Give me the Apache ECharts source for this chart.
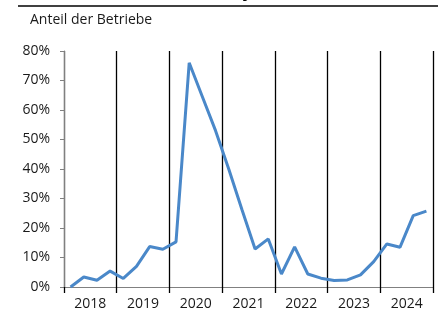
<!DOCTYPE html>
<html>
<head>
<meta charset="utf-8">
<script src="https://cdn.jsdelivr.net/npm/echarts@6/dist/echarts.min.js"></script>
<style>
  html, body { margin: 0; padding: 0; background: #fff; }
  #chart { width: 438px; height: 314px; }
</style>
</head>
<body>
<div id="chart"></div>
<script>
  // Quartale 2018 bis 2024
  var quarters = [];
  var years = ['2018', '2019', '2020', '2021', '2022', '2023', '2024'];
  years.forEach(function (y) {
    for (var q = 1; q <= 4; q++) quarters.push(y + ' Q' + q);
  });

  // Anteil der Betriebe in %
  var anteil = [
    0, 3.4, 2.3, 5.4,
    2.9, 7.0, 13.7, 12.8,
    15.3, 76, 64.5, 53,
    40, 26.3, 12.9, 16.3,
    4.4, 13.6, 4.4, 3.0,
    2.2, 2.4, 4.1, 8.6,
    14.6, 13.5, 24.2, 25.7
  ];

  var yTicks = { min: 0, max: 80, step: 10 };

  var fontFam = '"Open Sans", "Noto Sans", sans-serif';

  var chart = echarts.init(document.getElementById('chart'));
  var option = {
    animation: false,
    textStyle: { fontFamily: fontFam },
    grid: { left: 64, right: 5, top: 51, bottom: 27 },
    graphic: [
      {
        type: 'text',
        left: 28,
        top: -17,
        style: {
          text: 'Kurzarbeit, in % inkl. Bayern',
          font: 'bold 18px ' + fontFam,
          fill: '#000'
        }
      },
      {
        type: 'line',
        shape: { x1: 18, y1: 6, x2: 438, y2: 6 },
        style: { stroke: '#000', lineWidth: 1.5 }
      },
      {
        type: 'text',
        left: 30,
        top: 13,
        style: {
          text: 'Anteil der Betriebe',
          font: '14px ' + fontFam,
          fill: '#1a1a1a'
        }
      }
    ],
    xAxis: [
      {
        type: 'category',
        data: quarters,
        boundaryGap: true,
        position: 'bottom',
        axisLine: { show: true, lineStyle: { color: '#808080', width: 1 } },
        axisTick: { show: true, interval: 3, length: 6, lineStyle: { color: '#000', width: 1.3 } },
        axisLabel: { show: false },
        splitLine: { show: true, interval: 3, lineStyle: { color: '#000', width: 1.3 } }
      },
      {
        type: 'category',
        data: years,
        boundaryGap: true,
        position: 'bottom',
        offset: 0,
        axisLine: { show: false },
        axisTick: { show: false },
        axisLabel: { color: '#1a1a1a', fontSize: 14, margin: 10 },
        splitLine: { show: false }
      }
    ],
    yAxis: {
      type: 'value',
      min: yTicks.min,
      max: yTicks.max,
      interval: yTicks.step,
      axisLine: { show: true, lineStyle: { color: '#808080', width: 1 } },
      axisTick: { show: true, length: 4, lineStyle: { color: '#808080' } },
      axisLabel: { formatter: '{value}%', color: '#1a1a1a', fontSize: 14, margin: 14 },
      splitLine: { show: false }
    },
    series: [
      {
        type: 'line',
        xAxisIndex: 0,
        data: anteil,
        symbol: 'none',
        lineStyle: { color: '#4a88c9', width: 3 },
        z: 5
      }
    ]
  };
  chart.setOption(option);
</script>
</body>
</html>
